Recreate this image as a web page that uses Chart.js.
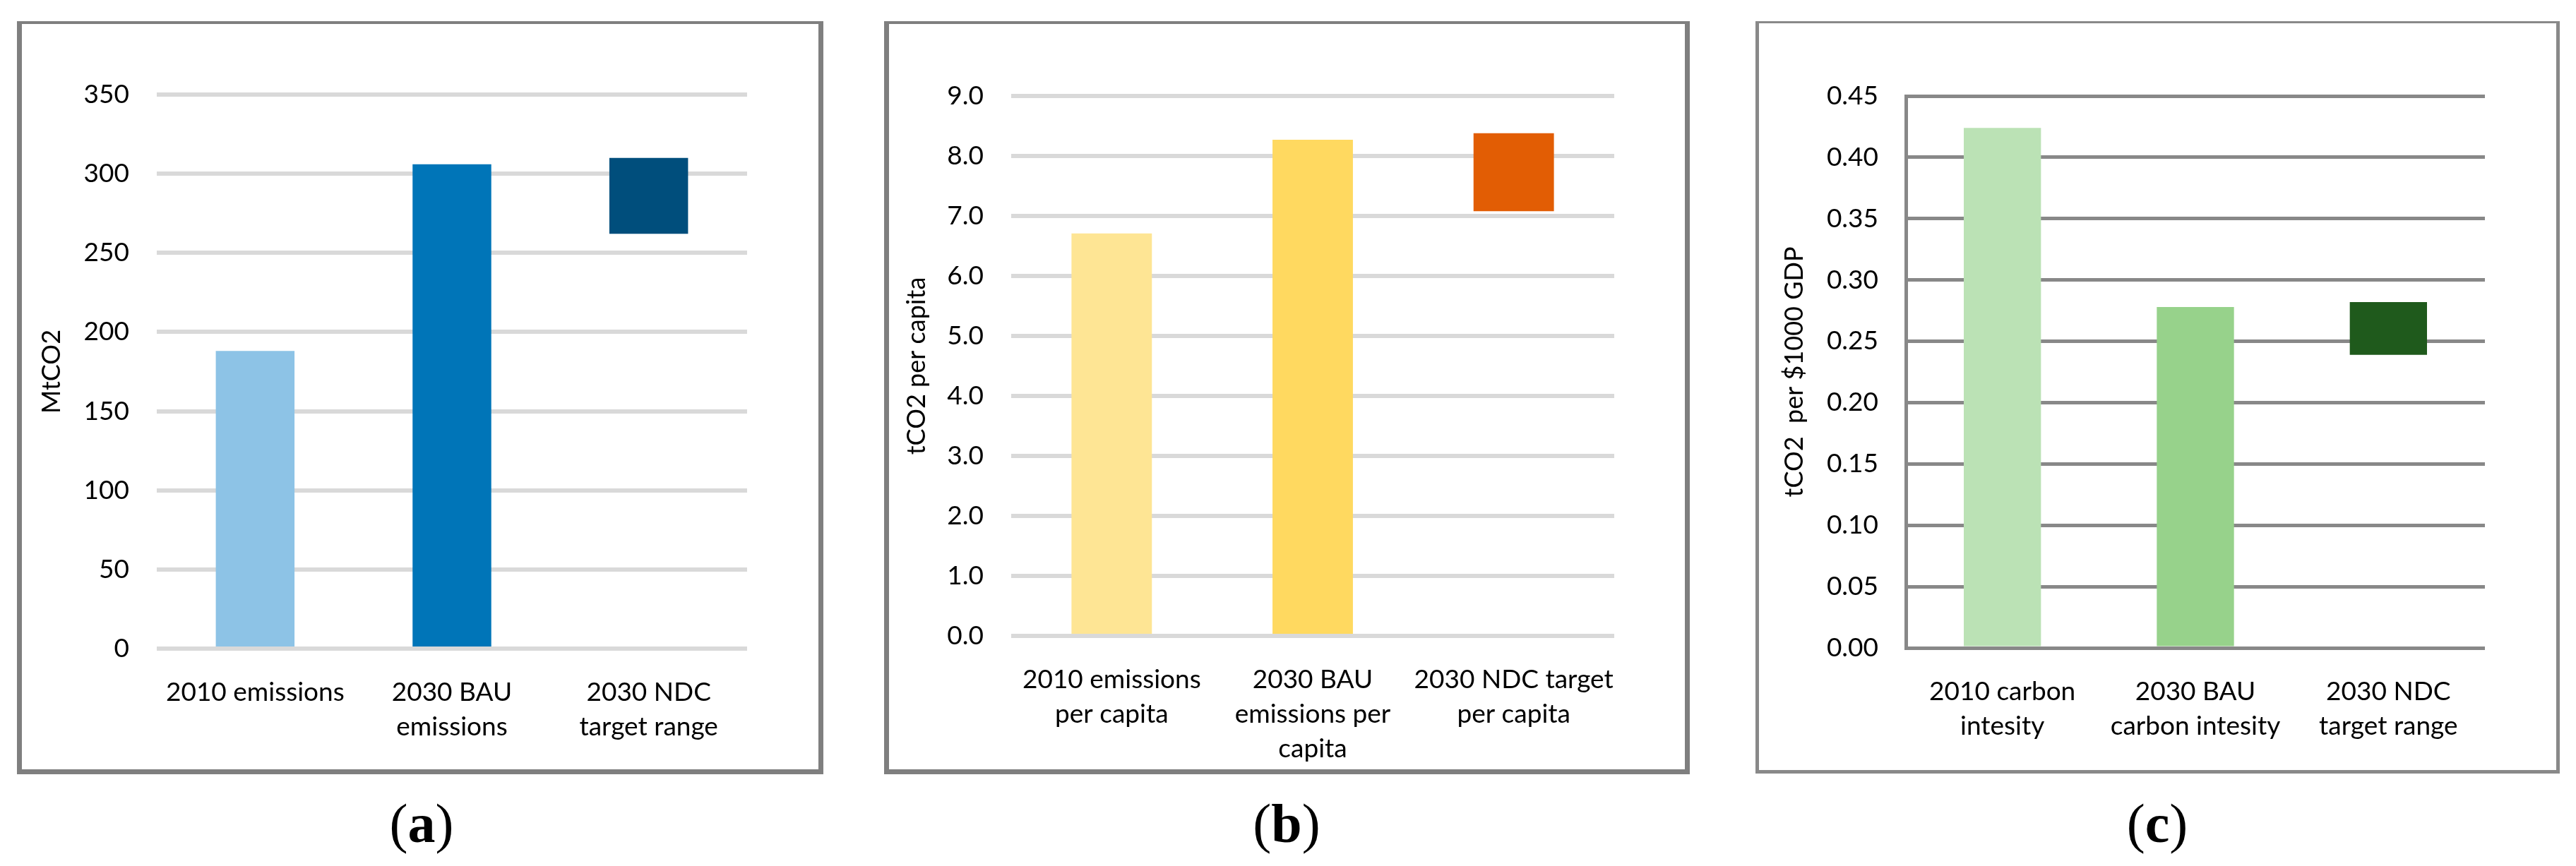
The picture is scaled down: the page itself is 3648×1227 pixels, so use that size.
<!DOCTYPE html>
<html lang="en">
<head>
<meta charset="UTF-8">
<title>Emissions, emissions per capita and carbon intensity</title>
<script src="https://cdn.jsdelivr.net/npm/chart.js@4.4.1/dist/chart.umd.min.js"></script>
<style>
  body {
    margin: 0;
    width: 3648px;
    height: 1227px;
    background: #ffffff;
    position: relative;
    overflow: hidden;
    font-family: Lato, sans-serif;
  }
  .frame {
    position: absolute;
    box-sizing: border-box;
    border: 7px solid #7f7f7f;
    border-top-width: 4px;
  }
  .frame.thin {
    border: 5px solid #898989;
    border-top-width: 3px;
  }
  .inner {
    position: relative;
    width: 100%;
    height: 100%;
  }
  .cap {
    position: absolute;
    top: 1128px;
    width: 300px;
    margin-left: -150px;
    text-align: center;
    font-family: 'Liberation Serif', serif;
    font-size: 78px;
    line-height: 78px;
    color: #000;
  }
</style>
</head>
<body>
  <div class="frame" style="left:24px; top:30px; width:1142px; height:1067px;">
    <div class="inner"><canvas id="chartA"></canvas></div>
  </div>
  <div class="frame" style="left:1252px; top:30px; width:1141px; height:1067px;">
    <div class="inner"><canvas id="chartB"></canvas></div>
  </div>
  <div class="frame thin" style="left:2486px; top:30px; width:1139px; height:1066px;">
    <div class="inner"><canvas id="chartC"></canvas></div>
  </div>

  <div class="cap" style="left:597px;">(<b>a</b>)</div>
  <div class="cap" style="left:1822px;">(<b>b</b>)</div>
  <div class="cap" style="left:3055px;">(<b>c</b>)</div>

<script>
// (a) total emissions, MtCO2
const labelsA = [['2010 emissions'], ['2030 BAU', 'emissions'], ['2030 NDC', 'target range']];
const valuesA = [188, 306];
const rangeA = [262, 310];
const ticksA = { min: 0, max: 350, step: 50 };

// (b) emissions per capita, tCO2
const labelsB = [['2010 emissions', 'per capita'], ['2030 BAU', 'emissions per', 'capita'], ['2030 NDC target', 'per capita']];
const valuesB = [6.71, 8.27];
const rangeB = [7.08, 8.38];
const ticksB = { min: 0, max: 9, step: 1 };

// (c) carbon intensity, tCO2 per $1000 GDP
const labelsC = [['2010 carbon', 'intesity'], ['2030 BAU', 'carbon intesity'], ['2030 NDC', 'target range']];
const valuesC = [0.424, 0.278];
const rangeC = [0.239, 0.282];
const ticksC = { min: 0, max: 0.45, step: 0.05 };

Chart.defaults.font.family = 'Lato, sans-serif';
Chart.defaults.color = '#000000';

function makePanel(id, labels, values, range, ticks, o) {
    const ctx = document.getElementById(id).getContext('2d');
    return new Chart(ctx, {
        type: 'bar',
        data: {
            labels: labels,
            datasets: [{
                data: [values[0], values[1], range],
                backgroundColor: o.colors,
                borderWidth: 0,
                categoryPercentage: 1,
                barPercentage: 0.4
            }]
        },
        options: {
            responsive: true,
            maintainAspectRatio: false,
            devicePixelRatio: 1,
            animation: false,
            layout: {
                padding: { top: o.padTop, right: o.padRight, left: 0, bottom: 0 }
            },
            plugins: {
                legend: { display: false },
                tooltip: { enabled: false }
            },
            scales: {
                x: {
                    grid: { display: false },
                    border: { display: false },
                    ticks: {
                        color: '#000',
                        font: { size: 37, lineHeight: 1.32 },
                        padding: 30,
                        maxRotation: 0,
                        minRotation: 0,
                        autoSkip: false
                    },
                    afterFit: function(scale) {
                        scale.height = o.xHeight;
                    }
                },
                y: {
                    min: ticks.min,
                    max: ticks.max,
                    grid: {
                        color: o.gridColor,
                        lineWidth: o.gridWidth,
                        drawTicks: false
                    },
                    border: {
                        display: o.axisLine,
                        color: o.gridColor,
                        width: o.gridWidth
                    },
                    ticks: {
                        stepSize: ticks.step,
                        color: '#000',
                        font: { size: 37 },
                        padding: 39,
                        callback: function(value) {
                            return value.toFixed(o.decimals);
                        }
                    },
                    title: {
                        display: true,
                        text: o.title,
                        color: '#000',
                        font: { size: 36 },
                        padding: { top: o.titlePad, bottom: 0 }
                    },
                    afterFit: function(scale) {
                        scale.width = o.yWidth;
                    }
                }
            }
        }
    });
}

makePanel('chartA', labelsA, valuesA, rangeA, ticksA, {
    colors: ['#8dc3e6', '#0075b8', '#004e7c'],
    title: 'MtCO2',
    decimals: 0,
    gridColor: '#d9d9d9',
    gridWidth: 6,
    axisLine: false,
    yWidth: 191,
    xHeight: 171,
    padTop: 100,
    padRight: 101,
    titlePad: 21
});

makePanel('chartB', labelsB, valuesB, rangeB, ticksB, {
    colors: ['#fee594', '#ffd960', '#e25d04'],
    title: 'tCO2 per capita',
    decimals: 1,
    gridColor: '#d9d9d9',
    gridWidth: 6,
    axisLine: false,
    yWidth: 173,
    xHeight: 189,
    padTop: 102,
    padRight: 100,
    titlePad: 18
});

makePanel('chartC', labelsC, valuesC, rangeC, ticksC, {
    colors: ['#bbe2b5', '#97d28b', '#1f5a1c'],
    title: 'tCO2  per $1000 GDP',
    decimals: 2,
    gridColor: '#888888',
    gridWidth: 5,
    axisLine: true,
    yWidth: 208,
    xHeight: 173,
    padTop: 103,
    padRight: 101,
    titlePad: 29
});
</script>
</body>
</html>
